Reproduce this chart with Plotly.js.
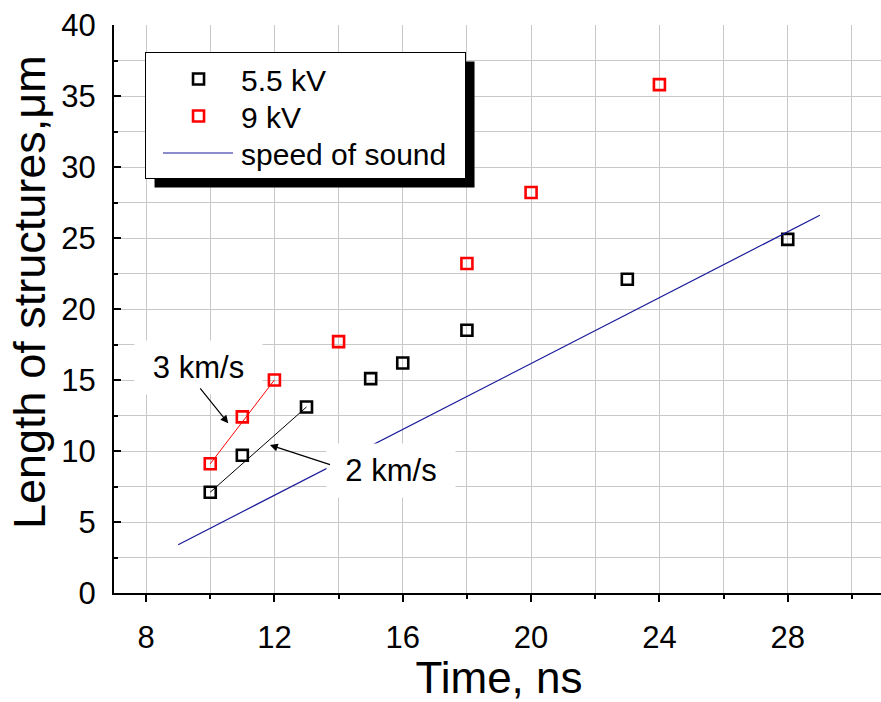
<!DOCTYPE html>
<html>
<head>
<meta charset="utf-8">
<script src="https://cdn.plot.ly/plotly-3.0.1.min.js"></script>
<style>
  html, body { margin: 0; padding: 0; overflow: hidden; background: #fff; }
  #chart { width: 886px; height: 702px; }
</style>
</head>
<body>
<div id="chart"></div>
<script>
// ---- data ----
const timeLow = [10, 11, 13, 15, 16, 18, 23, 28];                // ns, 5.5 kV
const lenLow  = [7.1, 9.7, 13.1, 15.1, 16.2, 18.5, 22.1, 24.9];  // um
const timeHigh = [10, 11, 12, 14, 18, 20, 24];                   // ns, 9 kV
const lenHigh  = [9.1, 12.4, 15.0, 17.7, 23.2, 28.2, 35.8];
const fitLowX = [10, 13];
const fitLowY = [7.1, 13.1];
const fitHighX = [10, 12];
const fitHighY = [9.1, 15.0];
const soundX = [9, 29];
const soundY = [3.4, 26.6];
const seriesNames = ['5.5 kV', '9 kV', 'speed of sound'];
const label3 = '3 km/s';
const label2 = '2 km/s';
const xTitle = 'Time, ns';
const yTitle = 'Length of structures,\u03bcm';

const FONT = 'Liberation Sans, Arial, sans-serif';
const GRID = '#c8c8c8';

const traces = [
  {x: fitHighX, y: fitHighY, mode: 'lines', line: {color: '#ff0000', width: 1}, showlegend: false, hoverinfo: 'skip'},
  {x: fitLowX, y: fitLowY, mode: 'lines', line: {color: '#000000', width: 1}, showlegend: false, hoverinfo: 'skip'},
  {x: timeLow, y: lenLow, name: seriesNames[0], mode: 'markers',
   marker: {symbol: 'square-open', size: 11, color: '#000000', line: {width: 2.6, color: '#000000'}}},
  {x: timeHigh, y: lenHigh, name: seriesNames[1], mode: 'markers',
   marker: {symbol: 'square-open', size: 11, color: '#ff0000', line: {width: 2.6, color: '#ff0000'}}},
  {x: soundX, y: soundY, name: seriesNames[2], mode: 'lines', line: {color: '#1a1a9c', width: 1.2}}
];

const axisCommon = {
  showline: true, linecolor: '#000', linewidth: 2, zeroline: false,
  tickcolor: '#000', tickwidth: 2,
  tickfont: {family: FONT, size: 31, color: '#000'}
};

const layout = {
  width: 886, height: 702,
  margin: {l: 114, r: 2, t: 25, b: 109, pad: 0},
  paper_bgcolor: '#fff', plot_bgcolor: '#fff',
  font: {family: FONT, color: '#000'},
  showlegend: true,
  legend: {
    x: 0.0403, y: 0.9525, xanchor: 'left', yanchor: 'top',
    bgcolor: '#fff', bordercolor: '#000', borderwidth: 1,
    font: {family: FONT, size: 30, color: '#000'},
    itemwidth: 85, tracegroupgap: 0
  },
  xaxis: Object.assign({}, axisCommon, {
    range: [7, 31], tick0: 8, dtick: 4, ticks: 'outside', ticklen: 7,
    showgrid: true, gridcolor: GRID, gridwidth: 1,
    minor: {dtick: 2, tick0: 8, ticks: 'outside', ticklen: 4, tickwidth: 2, tickcolor: '#000', showgrid: true, gridcolor: GRID, gridwidth: 1},
    ticklabelstandoff: 9,
    title: {text: xTitle, font: {family: FONT, size: 44, color: '#000'}, standoff: 2}
  }),
  xaxis2: Object.assign({}, axisCommon, {
    range: [7, 31], overlaying: 'x', side: 'top', anchor: 'y',
    tick0: 8, dtick: 4, ticks: 'inside', ticklen: 7, showticklabels: false, showgrid: false,
    minor: {dtick: 2, tick0: 8, ticks: 'inside', ticklen: 4, tickwidth: 2, tickcolor: '#000', showgrid: false}
  }),
  yaxis: Object.assign({}, axisCommon, {
    range: [0, 40], tick0: 0, dtick: 5, ticks: 'inside', ticklen: 7,
    showgrid: true, gridcolor: GRID, gridwidth: 1,
    minor: {dtick: 2.5, tick0: 0, ticks: 'inside', ticklen: 4, tickwidth: 2, tickcolor: '#000', showgrid: true, gridcolor: GRID, gridwidth: 1},
    ticklabelstandoff: 10
  }),
  yaxis2: Object.assign({}, axisCommon, {
    range: [0, 40], overlaying: 'y', side: 'right', anchor: 'x',
    tick0: 0, dtick: 5, ticks: 'inside', ticklen: 7, showticklabels: false, showgrid: false,
    minor: {dtick: 2.5, tick0: 0, ticks: 'inside', ticklen: 4, tickwidth: 2, tickcolor: '#000', showgrid: false}
  }),
  annotations: [
    // y axis title (placed as annotation so it can sit off-centre like the original)
    {x: -0.1104, y: 0.5299, xref: 'paper', yref: 'paper', xanchor: 'center', yanchor: 'middle',
     text: yTitle, textangle: -90, showarrow: false, font: {family: FONT, size: 45, color: '#000'}},
    {x: 9.62, y: 15.9, xref: 'x', yref: 'y', text: label3, showarrow: false,
     font: {family: FONT, size: 31, color: '#000'}, bgcolor: '#fff', width: 127, height: 53, borderpad: 0},
    {x: 15.63, y: 8.63, xref: 'x', yref: 'y', text: label2, showarrow: false,
     font: {family: FONT, size: 31, color: '#000'}, bgcolor: '#fff', width: 128, height: 53, borderpad: 0},
    {x: 10.56, y: 11.95, ax: 9.65, ay: 14.51, xref: 'x', yref: 'y', axref: 'x', ayref: 'y',
     text: '', showarrow: true, arrowhead: 2, arrowsize: 1.3, arrowwidth: 1.2, arrowcolor: '#000'},
    {x: 11.86, y: 10.42, ax: 13.78, ay: 9.01, xref: 'x', yref: 'y', axref: 'x', ayref: 'y',
     text: '', showarrow: true, arrowhead: 2, arrowsize: 1.3, arrowwidth: 1.2, arrowcolor: '#000'}
  ]
};

// tighten legend rows / box to the original's proportions
const ROW_STEP = 37, BOX_W = 321, BOX_H = 127, SYMBOL_SHIFT = 5;
const LINE_LEFT = 163, LINE_LEN = 70;   // legend line sample, page px
function tweakLegend(gd) {
  const items = gd.querySelectorAll('.legend .traces');
  let y0 = null;
  items.forEach(function (el, i) {
    const m = /translate\(\s*([-\d.]+)[ ,]+([-\d.]+)\s*\)/.exec(el.getAttribute('transform') || '');
    if (!m) return;
    if (y0 === null) y0 = parseFloat(m[2]);
    el.setAttribute('transform', 'translate(' + m[1] + ',' + (y0 + i * ROW_STEP) + ')');
    const layers = el.querySelector('.layers');
    if (layers && !layers.dataset.shifted) {
      const t = layers.getAttribute('transform') || '';
      layers.setAttribute('transform', t + ' translate(' + SYMBOL_SHIFT + ',0)');
      layers.dataset.shifted = '1';
    }
  });
  const c = gd.getBoundingClientRect();
  gd.querySelectorAll('.legend .legendlines path').forEach(function (p) {
    const bb = p.getBoundingClientRect();
    const loc = p.getBBox();
    const offset = bb.left - loc.x;               // screen x of local 0
    const start = (c.left + LINE_LEFT) - offset;
    p.setAttribute('d', 'M' + start + ',0h' + LINE_LEN);
  });
  const bg = gd.querySelector('.legend .bg');
  if (bg) { bg.setAttribute('width', BOX_W - 1); bg.setAttribute('height', BOX_H - 1); }
  return bg;
}

Plotly.newPlot('chart', traces, layout, {displayModeBar: false, staticPlot: true}).then(function (gd) {
  const bg = tweakLegend(gd);
  if (!bg) return;
  const r = bg.getBoundingClientRect();
  const c = gd.getBoundingClientRect();
  const s = gd._fullLayout._size;
  const off = 9;
  const px2x = function (px) { return (px - c.left - s.l) / s.w; };
  const px2y = function (py) { return 1 - (py - c.top - s.t) / s.h; };
  return Plotly.relayout(gd, {shapes: [{
    type: 'rect', xref: 'paper', yref: 'paper', layer: 'above',
    x0: px2x(r.left + off), x1: px2x(r.right + off),
    y0: px2y(r.bottom + off), y1: px2y(r.top + off),
    fillcolor: '#000', line: {width: 0}
  }]}).then(function () { tweakLegend(gd); });
});
</script>
</body>
</html>
